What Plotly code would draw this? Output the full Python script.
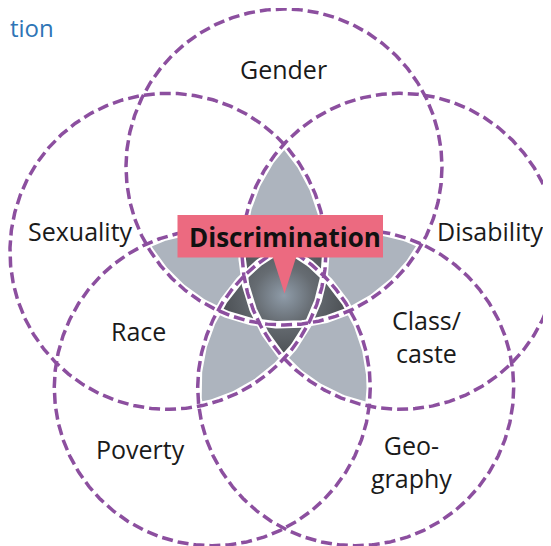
import numpy as np
import plotly.graph_objects as go
from itertools import combinations

# ---- data ----
circle_names = ["Gender", "Disability", "Geography", "Poverty", "Sexuality"]
label_texts = ["Gender", "Sexuality", "Disability", "Race", "Class/<br>caste", "Poverty", "Geo-<br>graphy"]
callout_text = "Discrimination"
title_text = "tion"

# ---- geometry / style ----
CX, CY = 284.0, 289.0      # pentagon centre (page pixel coords)
R_PENT = 122.0             # distance of circle centres from centre
R_CIRC = 158.0             # circle radius
label_pos = [(283, 69), (80, 231), (490, 231), (138, 331), (426, 336), (140, 449), (411, 461)]
PAGE_OFF = 8               # default body margin of the html page

PURPLE = "#8C4F9F"
LIGHT = "#ADB4BE"
PINK = "#EC6A80"
BLUE = "#2E75B6"

n = len(circle_names)
angles = np.deg2rad(-90 + 72 * np.arange(n))   # screen coords (y down)
centers = np.stack([CX + R_PENT * np.cos(angles), CY + R_PENT * np.sin(angles)], axis=1)


def region(idx):
    """Boundary of intersection of circles idx (convex)."""
    pts = []
    th = np.linspace(0, 2 * np.pi, 2400, endpoint=False)
    for i in idx:
        p = np.stack([centers[i, 0] + R_CIRC * np.cos(th), centers[i, 1] + R_CIRC * np.sin(th)], axis=1)
        ok = np.ones(len(p), bool)
        for j in idx:
            if j == i:
                continue
            ok &= np.hypot(p[:, 0] - centers[j, 0], p[:, 1] - centers[j, 1]) <= R_CIRC + 1e-9
        pts.append(p[ok])
    pts = np.concatenate(pts)
    if len(pts) < 3:
        return None
    m = pts.mean(axis=0)
    order = np.argsort(np.arctan2(pts[:, 1] - m[1], pts[:, 0] - m[0]))
    return pts[order]


def concat(polys):
    xs, ys = [], []
    for p in polys:
        if p is None:
            continue
        xs += list(p[:, 0]) + [p[0, 0], None]
        ys += list(p[:, 1]) + [p[0, 1], None]
    return xs, ys


fig = go.Figure()

# 3-fold overlaps (light grey)
xs, ys = concat([region(c) for c in combinations(range(n), 3)])
fig.add_trace(go.Scatter(x=xs, y=ys, mode="lines", fill="toself", fillcolor=LIGHT,
                         line=dict(width=0, color=LIGHT), hoverinfo="skip", showlegend=False))

# 4- and 5-fold overlaps (dark radial gradient)
polys = [region(c) for c in combinations(range(n), 4)] + [region(tuple(range(n)))]
xs, ys = concat(polys)
fig.add_trace(go.Scatter(x=xs, y=ys, mode="lines", fill="toself",
                         fillgradient=dict(type="radial",
                                           colorscale=[[0, "#8F9CA9"], [0.45, "#666C72"], [1, "#4A4E52"]]),
                         line=dict(width=0, color="#5A5E62"), hoverinfo="skip", showlegend=False))

# circle outlines: white halo then purple dashes
th = np.linspace(0, 2 * np.pi, 721)
for k in range(n):
    fig.add_trace(go.Scatter(x=centers[k, 0] + R_CIRC * np.cos(th), y=centers[k, 1] + R_CIRC * np.sin(th),
                             mode="lines", line=dict(color="white", width=7.5),
                             hoverinfo="skip", showlegend=False))
for k in range(n):
    fig.add_trace(go.Scatter(x=centers[k, 0] + R_CIRC * np.cos(th), y=centers[k, 1] + R_CIRC * np.sin(th),
                             mode="lines", line=dict(color=PURPLE, width=3.5, dash="11px,5px"),
                             name=circle_names[k], hoverinfo="skip", showlegend=False))

# callout box + pointer
fig.add_shape(type="rect", x0=177.5, x1=383, y0=215, y1=257.5, fillcolor=PINK, line=dict(width=0), layer="above")
fig.add_shape(type="path", path="M 272.5 256 L 296.5 256 L 284.5 293.5 Z", fillcolor=PINK,
              line=dict(width=0), layer="above")
fig.add_annotation(x=284.5, y=237, text="<b>%s</b>" % callout_text, showarrow=False,
                   font=dict(family="Open Sans", size=26, color="#111111"))

for t, (x, y) in zip(label_texts, label_pos):
    fig.add_annotation(x=x, y=y, text=t, showarrow=False,
                       font=dict(family="Open Sans", size=25, color="#1A1A1A"))

fig.add_annotation(xref="paper", yref="paper", x=0, y=1, yshift=-19, text=title_text, showarrow=False,
                   xanchor="left", yanchor="middle",
                   font=dict(family="Open Sans", size=24, color=BLUE))

W, H = 551, 546
fig.update_layout(width=W - PAGE_OFF, height=H - PAGE_OFF, autosize=False, margin=dict(l=0, r=0, t=0, b=0),
                  paper_bgcolor="white", plot_bgcolor="white",
                  xaxis=dict(range=[PAGE_OFF, W], visible=False, fixedrange=True),
                  yaxis=dict(range=[H, PAGE_OFF], visible=False, fixedrange=True))

fig.write_html("out.html", config={"displayModeBar": False})
